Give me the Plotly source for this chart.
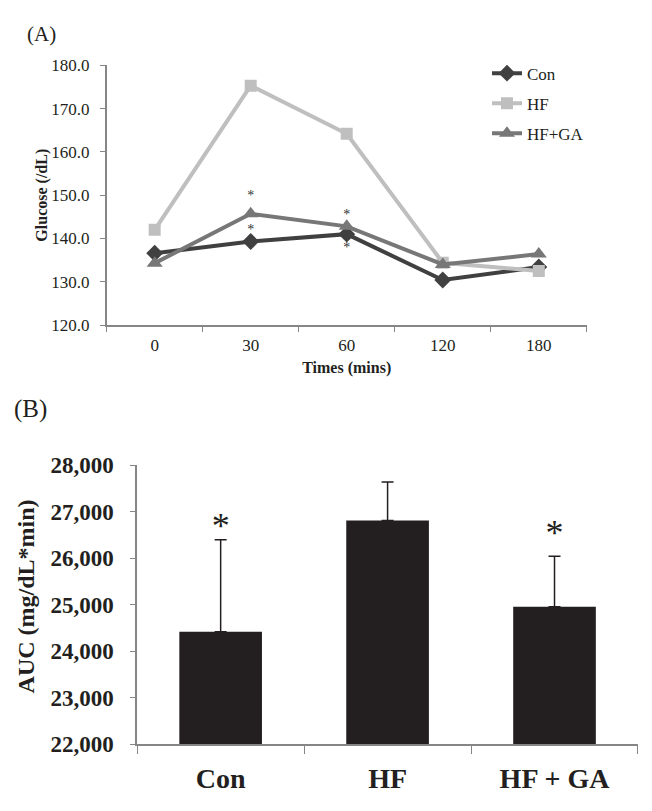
import plotly.graph_objects as go

# Panel A data
times = ["0", "30", "60", "120", "180"]
con_glucose = [136.6, 139.3, 141.0, 130.4, 133.4]
hf_glucose = [142.0, 175.3, 164.2, 134.4, 132.5]
hfga_glucose = [134.3, 145.7, 142.8, 134.0, 136.4]

# significance stars panel A
starA_times = ["30", "30", "60", "60"]
starA_vals = [149.6, 141.9, 145.4, 137.6]

# Panel B data
groups = ["Con", "HF", "HF + GA"]
auc = [24415, 26810, 24955]
auc_err = [1980, 825, 1085]
starB_groups = ["Con", "HF + GA"]
starB_vals = [26620, 26480]

serif = "Liberation Serif"
ink = "#231f20"
axis_col = "#868686"

fig = go.Figure()

fig.add_trace(go.Scatter(x=times, y=con_glucose, name="Con", mode="lines+markers",
                         line=dict(color="#404040", width=4),
                         marker=dict(symbol="diamond", size=13, color="#404040"),
                         xaxis="x", yaxis="y", legendgroup="a"))
fig.add_trace(go.Scatter(x=times, y=hf_glucose, name="HF", mode="lines+markers",
                         line=dict(color="#bfbfbf", width=4),
                         marker=dict(symbol="square", size=12, color="#bfbfbf"),
                         xaxis="x", yaxis="y", legendgroup="b"))
fig.add_trace(go.Scatter(x=times, y=hfga_glucose, name="HF+GA", mode="lines+markers",
                         line=dict(color="#777777", width=4),
                         marker=dict(symbol="triangle-up", size=14, color="#777777"),
                         xaxis="x", yaxis="y", legendgroup="c"))

fig.add_trace(go.Scatter(x=starA_times, y=starA_vals, mode="text", text=["*"] * len(starA_vals),
                         textfont=dict(family=serif, size=14, color="#333333"),
                         xaxis="x", yaxis="y", showlegend=False, hoverinfo="skip"))

fig.add_trace(go.Bar(x=groups, y=auc, width=0.495, marker=dict(color=ink, line=dict(width=0)),
                     error_y=dict(type="data", array=auc_err, arrayminus=[0] * len(auc_err),
                                  color=ink, thickness=1.5, width=6),
                     xaxis="x2", yaxis="y2", showlegend=False))

fig.add_trace(go.Scatter(x=starB_groups, y=starB_vals, mode="text", text=["*"] * len(starB_vals),
                         textfont=dict(family=serif, size=36, color=ink),
                         xaxis="x2", yaxis="y2", showlegend=False, hoverinfo="skip"))

annotations = [
    dict(x=25 / 652, y=1 - 23 / 811, xref="paper", yref="paper", text="(A)", showarrow=False,
         xanchor="left", yanchor="middle", font=dict(family=serif, size=21, color=ink)),
    dict(x=12 / 652, y=1 - 410 / 811, xref="paper", yref="paper", text="(B)", showarrow=False,
         xanchor="left", yanchor="middle", font=dict(family=serif, size=25, color=ink)),
    dict(x=26 / 652, y=1 - 603 / 811, xref="paper", yref="paper", text="<b>AUC (mg/dL*min)</b>",
         showarrow=False, textangle=-90, xanchor="center", yanchor="middle",
         font=dict(family=serif, size=24, color=ink)),
]

fig.update_layout(
    width=652, height=811,
    margin=dict(l=0, r=0, t=0, b=0),
    plot_bgcolor="white", paper_bgcolor="white",
    font=dict(family=serif, color=ink),
    annotations=annotations,
    legend=dict(x=487 / 652, y=1 - 45 / 811, xanchor="left", yanchor="top",
                font=dict(family=serif, size=17, color=ink),
                tracegroupgap=5, bgcolor="rgba(0,0,0,0)"),
    xaxis=dict(domain=[0.1636, 0.900], anchor="y", type="category", range=[-0.5, 4.5],
               showline=True, linecolor=axis_col, linewidth=1.5,
               ticks="outside", tickson="boundaries", ticklen=5, tickcolor=axis_col,
               ticklabelstandoff=4,
               tickfont=dict(family=serif, size=17, color=ink),
               title=dict(text="<b>Times (mins)</b>", font=dict(family=serif, size=16), standoff=8),
               showgrid=False, zeroline=False),
    yaxis=dict(domain=[0.6017, 0.9322], anchor="x", range=[120, 180], dtick=10, tickformat=".1f",
               showline=True, linecolor=axis_col, linewidth=1.5,
               ticks="outside", ticklen=5, tickcolor=axis_col,
               ticklabelstandoff=7,
               tickfont=dict(family=serif, size=17, color=ink),
               title=dict(text="<b>Glucose (/dL)</b>", font=dict(family=serif, size=16), standoff=0),
               showgrid=False, zeroline=False),
    xaxis2=dict(domain=[0.2104, 0.9785], anchor="y2", type="category", range=[-0.5, 2.5],
                showline=True, linecolor=axis_col, linewidth=1.5,
                ticks="outside", tickson="boundaries", ticklen=8, tickcolor=axis_col,
                ticklabelstandoff=8,
                tickfont=dict(family=serif, size=28, color=ink, weight="bold"),
                showgrid=False, zeroline=False),
    yaxis2=dict(domain=[0.0684, 0.4236], anchor="x2", range=[22000, 28000], dtick=1000,
                tickformat=",d",
                showline=True, linecolor=axis_col, linewidth=1.5,
                ticks="outside", ticklen=5, tickcolor=axis_col,
                ticklabelstandoff=12,
                tickfont=dict(family=serif, size=23, color=ink, weight="bold"),
                showgrid=False, zeroline=False),
)

fig.write_html("out.html", config={"displayModeBar": False},
               post_script="document.body.style.margin='0';")
